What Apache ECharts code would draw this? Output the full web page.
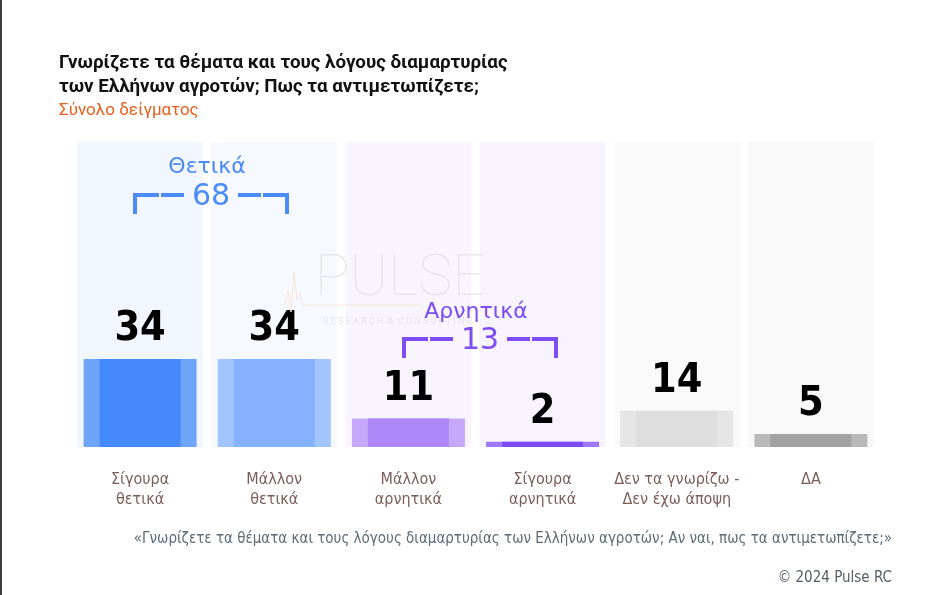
<!DOCTYPE html>
<html>
<head>
<meta charset="utf-8">
<script src="https://cdn.jsdelivr.net/npm/echarts@6/dist/echarts.min.js"></script>
<style>
  html, body { margin: 0; padding: 0; background: #fff; }
  #this_chart { width: 946px; height: 595px; }
  #edge { position: absolute; left: 0; top: 0; width: 2px; height: 595px; background: #3a3f44; }
</style>
</head>
<body>
<div id="this_chart"></div>
<div id="edge"></div>
<script>
const categories = ["Σίγουρα\nθετικά", "Μάλλον\nθετικά", "Μάλλον\nαρνητικά", "Σίγουρα\nαρνητικά", "Δεν τα γνωρίζω -\nΔεν έχω άποψη", "ΔΑ"];
const values = [34, 34, 11, 2, 14, 5];
const innerColors = ["#4589ff", "#84b2ff", "#ae87f8", "#7b4cf5", "#dedede", "#a2a2a2"];
const outerColors = ["#6ea5fb", "#a2c4ff", "#c5a8fa", "#9d78f8", "#e6e6e6", "#b9b9b9"];
const backColors = ["#f2f6fe", "#f6f9ff", "#f8f5fe", "#f7f4ff", "#fafafa", "#f8f8f8"];
const yMax = 118;

const groups = [
  { name: "Θετικά", total: 68, color: "#4a8bf5", x: 211, nameY: 167, y: 193 },
  { name: "Αρνητικά", total: 13, color: "#7d4cf5", x: 480, nameY: 312, y: 337 }
];

const narrow = "'Liberation Sans Narrow', 'DejaVu Sans Condensed', Roboto, sans-serif";

function bracket(g) {
  let c = g.color;
  let els = [];
  let l = g.x - 78, r = g.x + 78;
  let segs = [[l, 26], [l + 28, 23], [r - 51, 23], [r - 26, 26]];
  segs.forEach(s => {
    els.push({ type: "rect", z: 100, shape: { x: s[0], y: g.y, width: s[1], height: 4 }, style: { fill: c } });
  });
  els.push({ type: "rect", z: 100, shape: { x: l, y: g.y, width: 4, height: 21 }, style: { fill: c } });
  els.push({ type: "rect", z: 100, shape: { x: r - 4, y: g.y, width: 4, height: 21 }, style: { fill: c } });
  els.push({
    type: "text", z: 100, x: g.x, y: g.y + 4,
    style: { text: String(g.total), fill: c, font: "30px 'DejaVu Sans'", align: "center", verticalAlign: "middle" }
  });
  els.push({
    type: "text", z: 100, x: g.x - 4, y: g.nameY,
    style: { text: g.name, fill: c, font: "22px 'DejaVu Sans'", align: "center", verticalAlign: "middle" }
  });
  return els;
}

let chart = echarts.init(document.getElementById("this_chart"), null, { renderer: "canvas" });

let graphics = [
  // watermark
  {
    type: "text", x: 400, y: 280, z: 50,
    style: { text: "PULSE", fill: "#e4e4e4", font: "100 58px Roboto", align: "center", verticalAlign: "middle", opacity: 0.8 }
  },
  {
    type: "text", x: 398, y: 322, z: 50,
    style: { text: "R E S E A R C H  &  C O N S U L T I N G", fill: "#e6e6e6", font: "9px Roboto", align: "center", verticalAlign: "middle" }
  },
  {
    type: "polyline", z: 50,
    shape: { points: [[280, 305], [285, 304], [288, 290], [291, 312], [294, 272], [297, 300], [300, 292], [303, 306], [307, 305], [420, 305]] },
    style: { stroke: "#fbe6d6", lineWidth: 1, fill: null }
  }
];
groups.forEach(g => { graphics = graphics.concat(bracket(g)); });

let option = {
  animation: false,
  title: [
    {
      text: "Γνωρίζετε τα θέματα και τους λόγους διαμαρτυρίας\nτων Ελλήνων αγροτών; Πως τα αντιμετωπίζετε;",
      subtext: "Σύνολο δείγματος",
      left: 54, top: 46,
      itemGap: 3,
      textStyle: { fontFamily: "Roboto", fontWeight: "bold", fontSize: 18.8, lineHeight: 24, color: "#111" },
      subtextStyle: { fontFamily: "Roboto", fontSize: 17, color: "#e8601c" }
    },
    {
      text: "«Γνωρίζετε τα θέματα και τους λόγους διαμαρτυρίας των Ελλήνων αγροτών; Αν ναι, πως τα αντιμετωπίζετε;»",
      right: 49, top: 527,
      textStyle: { fontFamily: narrow, fontWeight: "normal", fontSize: 15, color: "#5b6b78" }
    },
    {
      text: "© 2024 Pulse RC",
      right: 49, top: 566,
      textStyle: { fontFamily: narrow, fontWeight: "normal", fontSize: 15, color: "#555e66" }
    }
  ],
  grid: { left: 73, right: 68, top: 142, bottom: 148 },
  xAxis: [0, 1, 2].map(i => ({
    type: "category",
    data: categories,
    show: i === 0,
    axisLine: { show: false },
    axisTick: { show: false },
    axisLabel: {
      interval: 0,
      margin: 23,
      fontFamily: narrow,
      fontSize: 16,
      lineHeight: 20,
      color: "#7b5e57"
    }
  })),
  yAxis: { type: "value", min: 0, max: yMax, show: false },
  series: [
    {
      type: "bar", xAxisIndex: 0, barWidth: 126, silent: true,
      data: backColors.map(c => ({ value: yMax, itemStyle: { color: c } }))
    },
    {
      type: "bar", xAxisIndex: 1, barWidth: 113,
      data: values.map((v, i) => ({ value: v, itemStyle: { color: outerColors[i] } }))
    },
    {
      type: "bar", xAxisIndex: 2, barWidth: 81,
      data: values.map((v, i) => ({ value: v, itemStyle: { color: innerColors[i] } })),
      label: {
        show: true, position: "top", distance: 9,
        fontFamily: narrow, fontWeight: "bold", fontSize: 41, color: "#000"
      }
    }
  ],
  graphic: graphics
};

chart.setOption(option);
</script>
</body>
</html>
